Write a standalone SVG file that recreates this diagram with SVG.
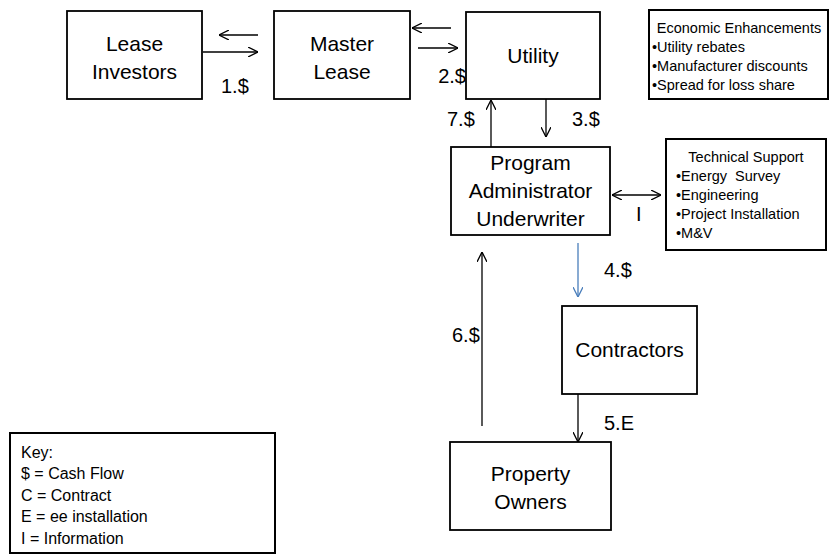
<svg xmlns="http://www.w3.org/2000/svg" width="833" height="556" viewBox="0 0 833 556">
<style>
  .box{fill:#fff;stroke:#000;stroke-width:1.8}
  .tbox{fill:#fff;stroke:#000;stroke-width:2}
  .t{font-family:"Liberation Sans",Arial,sans-serif;font-size:21px;fill:#000;text-anchor:middle}
  .lbl{font-family:"Liberation Sans",Arial,sans-serif;font-size:20px;fill:#000}
  .sm{font-family:"Liberation Sans",Arial,sans-serif;font-size:14.5px;fill:#000}
  .key{font-family:"Liberation Sans",Arial,sans-serif;font-size:16px;fill:#000}
  .c{stroke:#000;stroke-width:1.3;fill:none}
  .blue{stroke:#4a7ebb;stroke-width:1.3;fill:none}
</style>
<defs>
  <marker id="ah" viewBox="0 0 10 10" refX="10" refY="5" markerWidth="10" markerHeight="10" markerUnits="userSpaceOnUse" orient="auto-start-reverse">
    <path d="M0,0 L10,5 L0,10" fill="none" stroke="#000" stroke-width="1.3"/>
  </marker>
  <marker id="ahb" viewBox="0 0 10 10" refX="10" refY="5" markerWidth="10" markerHeight="10" markerUnits="userSpaceOnUse" orient="auto">
    <path d="M0,0 L10,5 L0,10" fill="none" stroke="#4a7ebb" stroke-width="1.3"/>
  </marker>
</defs>

<g id="lease-investors">
  <rect class="box" x="67" y="11" width="135" height="88"/>
  <text class="t" x="134.5" y="51">Lease</text>
  <text class="t" x="134.5" y="79">Investors</text>
</g>
<g id="master-lease">
  <rect class="box" x="274" y="11" width="136" height="88"/>
  <text class="t" x="342" y="51">Master</text>
  <text class="t" x="342" y="79">Lease</text>
</g>
<g id="utility">
  <rect class="box" x="466" y="12" width="134" height="87"/>
  <text class="t" x="533" y="63">Utility</text>
</g>
<g id="economic-enhancements">
  <rect class="tbox" x="649" y="10" width="179" height="89"/>
  <text class="sm" x="739" y="33" text-anchor="middle">Economic Enhancements</text>
  <text class="sm" x="652" y="52">•Utility rebates</text>
  <text class="sm" x="652" y="71">•Manufacturer discounts</text>
  <text class="sm" x="652" y="90">•Spread for loss share</text>
</g>
<g id="program-administrator">
  <rect class="box" x="451" y="147" width="159" height="88"/>
  <text class="t" x="530.5" y="170">Program</text>
  <text class="t" x="530.5" y="198">Administrator</text>
  <text class="t" x="530.5" y="226">Underwriter</text>
</g>
<g id="technical-support">
  <rect class="tbox" x="666" y="139" width="160" height="111"/>
  <text class="sm" x="746" y="162" text-anchor="middle">Technical Support</text>
  <text class="sm" x="676" y="181" xml:space="preserve">•Energy  Survey</text>
  <text class="sm" x="676" y="200">•Engineering</text>
  <text class="sm" x="676" y="219">•Project Installation</text>
  <text class="sm" x="676" y="238">•M&amp;V</text>
</g>
<g id="contractors">
  <rect class="box" x="562" y="306" width="135" height="88"/>
  <text class="t" x="629.5" y="357">Contractors</text>
</g>
<g id="property-owners">
  <rect class="box" x="450" y="442" width="161" height="88"/>
  <text class="t" x="530.5" y="481">Property</text>
  <text class="t" x="530.5" y="509">Owners</text>
</g>
<g id="key">
  <rect class="tbox" x="10" y="433" width="265" height="120"/>
  <text class="key" x="21" y="458">Key:</text>
  <text class="key" x="21" y="479">$ = Cash Flow</text>
  <text class="key" x="21" y="501">C = Contract</text>
  <text class="key" x="21" y="522">E = ee installation</text>
  <text class="key" x="21" y="544">I = Information</text>
</g>

<g id="connectors">
  <line class="c" x1="258" y1="35" x2="219" y2="35" marker-end="url(#ah)"/>
  <line class="c" x1="203" y1="52" x2="258" y2="52" marker-end="url(#ah)"/>
  <line class="c" x1="451" y1="28" x2="412" y2="28" marker-end="url(#ah)"/>
  <line class="c" x1="418" y1="48" x2="458" y2="48" marker-end="url(#ah)"/>
  <line class="c" x1="491" y1="147" x2="491" y2="100" marker-end="url(#ah)"/>
  <line class="c" x1="546" y1="99" x2="546" y2="137" marker-end="url(#ah)"/>
  <line class="c" x1="612" y1="195" x2="661" y2="195" marker-start="url(#ah)" marker-end="url(#ah)"/>
  <line class="blue" x1="578" y1="243" x2="578" y2="297" marker-end="url(#ahb)"/>
  <line class="c" x1="482" y1="426" x2="482" y2="252" marker-end="url(#ah)"/>
  <line class="c" x1="578" y1="394" x2="578" y2="442" marker-end="url(#ah)"/>

  <text class="lbl" x="221" y="93">1.$</text>
  <text class="lbl" x="466" y="83" text-anchor="end">2.$</text>
  <text class="lbl" x="447" y="126">7.$</text>
  <text class="lbl" x="572" y="126">3.$</text>
  <text class="lbl" x="636" y="221">I</text>
  <text class="lbl" x="604" y="277">4.$</text>
  <text class="lbl" x="452" y="342">6.$</text>
  <text class="lbl" x="604" y="430">5.E</text>
</g>
</svg>
